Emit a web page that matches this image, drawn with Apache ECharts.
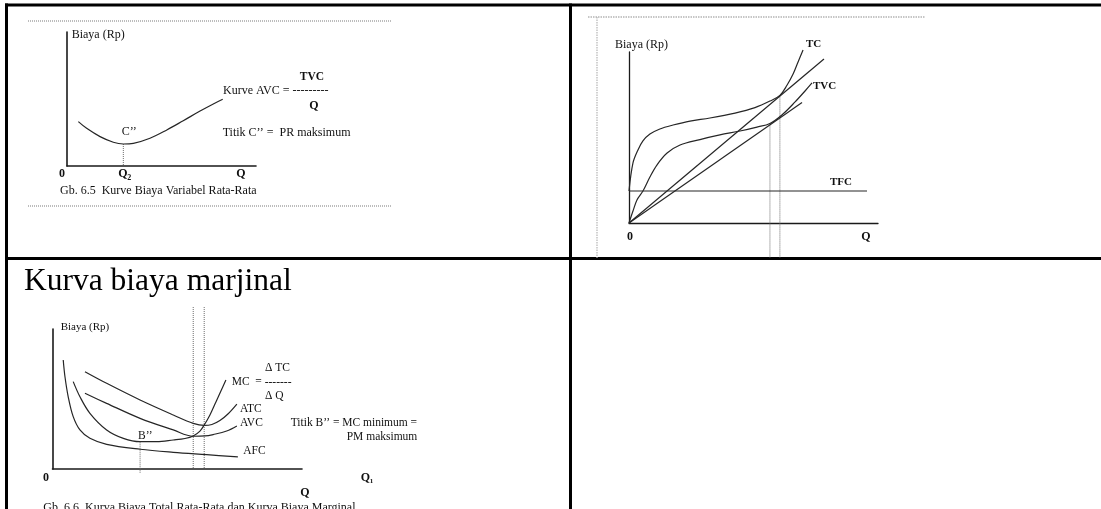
<!DOCTYPE html>
<html>
<head>
<meta charset="utf-8">
<script src="https://cdn.jsdelivr.net/npm/echarts@6/dist/echarts.min.js"></script>
<style>
  html, body { margin: 0; padding: 0; background: #fff; }
  #c { width: 1101px; height: 509px; }
</style>
</head>
<body>
<div id="c"></div>
<script>
// All three diagrams use an abstract 0..100 scale for quantity (Q) and cost (Biaya).

// ---- Gb. 6.5: average variable cost ----
const avcCurve65 = [
  [6.0, 33.1], [10.4, 28.1], [17.5, 21.9], [24.5, 17.7], [29.8, 16.4], [35.1, 16.9],
  [43.9, 20.7], [52.8, 26.9], [61.5, 33.8], [70.4, 41.0], [77.4, 46.3], [82.4, 49.8]
];
const q2Drop = [[29.8, 16.4], [29.8, 0]];
const axisLabels65 = ['0', 'Q', '2', 'Q'];

// ---- total cost panel: TC, TVC, TFC and rays from the origin ----
const tcCurve = [
  [0, 18.7], [1.6, 35.1], [3.6, 42.7], [5.6, 48.0], [8.4, 52.0], [12.4, 55.0],
  [17.7, 57.3], [24.5, 59.6], [32.5, 61.4], [42.6, 64.3], [50.6, 67.5], [56.6, 71.3],
  [60.6, 74.6], [63.5, 80.7], [65.9, 87.1], [67.9, 94.2], [69.9, 101.2]
];
const tvcCurve = [
  [0, 0], [1.6, 7.0], [3.2, 13.5], [5.6, 18.7], [8.4, 26.9], [11.2, 33.9],
  [15.3, 40.9], [20.5, 45.6], [28.5, 48.8], [36.5, 51.5], [44.6, 53.8], [51.4, 56.1],
  [56.6, 58.2], [61.8, 63.7], [66.7, 70.8], [70.7, 77.2], [73.5, 81.9]
];
const tfcLine = [[0, 18.7], [95.6, 18.7]];
const rayToTC = [[0, 0], [78.3, 95.9]];
const rayToTVC = [[0, 0], [69.5, 70.5]];
const dropAtTC = [[60.6, 74.6], [60.6, -20.5]];
const dropAtTVC = [[56.6, 58.2], [56.6, -20.5]];

// ---- Gb. 6.6: AFC, AVC, ATC, MC ----
const afcCurve = [
  [4.3, 77.9], [5.0, 65.9], [6.3, 51.6], [8.3, 37.4], [11.0, 27.9], [15.0, 21.9],
  [21.7, 17.6], [35.1, 14.1], [48.4, 11.9], [61.8, 10.2], [74.3, 8.6]
];
const mcCurve = [
  [8.3, 62.4], [11.0, 51.6], [15.0, 39.8], [21.7, 27.9], [28.4, 21.9], [35.1, 19.5],
  [41.8, 19.5], [48.4, 20.7], [53.1, 21.8], [56.4, 23.6], [59.1, 27.1], [60.8, 31.4],
  [63.1, 38.6], [65.5, 47.9], [67.5, 55.7], [69.5, 63.6]
];
const atcCurve = [
  [13.0, 69.5], [21.7, 61.2], [35.1, 49.3], [48.4, 38.6], [56.4, 32.6], [60.8, 31.1],
  [63.9, 31.8], [67.1, 34.6], [70.3, 39.3], [73.9, 46.4]
];
const avcCurve66 = [
  [13.0, 54.1], [21.7, 46.9], [35.1, 36.2], [48.4, 27.9], [56.4, 23.4], [61.1, 23.6],
  [64.4, 24.6], [69.8, 27.1], [73.9, 30.7]
];
const dropAtB = [[35.1, 19.5], [35.1, -3]];
const dropAtAVCmin = [[56.4, 115.7], [56.4, 0]];
const dropAtATCmin = [[60.8, 115.7], [60.8, 0]];

const FONT = '"Liberation Serif", "Times New Roman", serif';
const INK = '#111';
const LINE = '#262626';

const chart = echarts.init(document.getElementById('c'), null, { renderer: 'canvas', width: 1101, height: 509 });

function axis(gridIndex, width) {
  return {
    type: 'value', gridIndex, min: 0, max: 100,
    axisLine: { show: true, onZero: false, lineStyle: { color: '#1a1a1a', width } },
    axisTick: { show: false }, axisLabel: { show: false }, splitLine: { show: false }
  };
}

function curve(data, g, opts = {}) {
  return {
    type: 'line', xAxisIndex: g, yAxisIndex: g, data,
    smooth: opts.smooth === undefined ? 0.35 : opts.smooth,
    symbol: 'none', showSymbol: false, clip: false, silent: true,
    lineStyle: { color: opts.color || LINE, width: opts.width || 1.2, type: opts.type || 'solid' },
    z: opts.z || 3
  };
}

function guide(data, g) {
  return curve(data, g, { smooth: false, color: '#6a6a6a', width: 1, type: [1, 1], z: 2 });
}

function label(text, x, y, o = {}) {
  return {
    type: 'text', x, y, silent: true, z: 10,
    style: {
      text, fill: o.color || INK,
      fontFamily: FONT, fontSize: o.size || 12, fontWeight: o.bold ? 'bold' : 'normal',
      align: o.align || 'left', verticalAlign: 'middle'
    }
  };
}

function rule(x1, y1, x2, y2, o = {}) {
  return {
    type: 'line', silent: true, z: 1,
    shape: { x1, y1, x2, y2 },
    style: { stroke: o.color || '#000', lineWidth: o.width || 3, lineDash: o.dash || null }
  };
}

const graphics = [
  // table frame
  rule(5, 5, 1101, 5),
  rule(6.5, 3.5, 6.5, 509),
  rule(570.5, 3.5, 570.5, 509),
  rule(5, 258.5, 1101, 258.5),

  // Gb. 6.5 page rules
  rule(28, 21, 392, 21, { color: '#7a7a7a', width: 1, dash: [1, 1] }),
  rule(28, 206, 392, 206, { color: '#7a7a7a', width: 1, dash: [1, 1] }),

  // total cost figure frame
  rule(588, 17, 925, 17, { color: '#b4b4b4', width: 1.5, dash: [1.5, 1] }),
  rule(597, 17, 597, 258, { color: '#b4b4b4', width: 1.2, dash: [1.5, 1] }),

  // Gb. 6.5 text
  label('Biaya (Rp)', 71.7, 35),
  label('TVC', 312, 77, { bold: true, align: 'center', size: 11.5 }),
  label('Kurve AVC = ---------', 223, 91),
  label('Q', 314, 106, { bold: true, align: 'center' }),
  label('C\u2019\u2019', 121.7, 132),
  label('Titik C\u2019\u2019 =  PR maksimum', 222.7, 132.7),
  label(axisLabels65[0], 62, 174.3, { bold: true, align: 'center' }),
  label(axisLabels65[1], 118.3, 174.3, { bold: true }),
  label(axisLabels65[2], 127.2, 177.5, { bold: true, size: 8 }),
  label(axisLabels65[3], 241, 174.3, { bold: true, align: 'center' }),
  label('Gb. 6.5  Kurve Biaya Variabel Rata-Rata', 60, 191),

  // total cost text
  label('Biaya (Rp)', 615, 45),
  label('TC', 806, 44, { bold: true, size: 11 }),
  label('TVC', 813, 86, { bold: true, size: 11 }),
  label('TFC', 830, 182, { bold: true, size: 11 }),
  label('0', 630, 237, { bold: true, align: 'center' }),
  label('Q', 866, 237, { bold: true, align: 'center' }),

  // marginal cost text
  label('Kurva biaya marjinal', 24, 282, { size: 31.5, color: '#000' }),
  label('Biaya (Rp)', 60.7, 327, { size: 11 }),
  label('\u0394 TC', 265, 367.7, { size: 11.5 }),
  label('MC  = -------', 231.7, 381.7, { size: 11.5 }),
  label('\u0394 Q', 265, 395.7, { size: 11.5 }),
  label('ATC', 240, 409, { size: 11.5 }),
  label('AVC', 240, 423.3, { size: 11.5 }),
  label('Titik B\u2019\u2019 = MC minimum =', 290.7, 423.3, { size: 11.5 }),
  label('PM maksimum', 346.7, 436.7, { size: 11.5 }),
  label('AFC', 243.3, 450.7, { size: 11.5 }),
  label('B\u2019\u2019', 138, 436, { size: 11.5 }),
  label('0', 46, 478, { bold: true, align: 'center' }),
  label('Q', 360.7, 478.3, { bold: true }),
  label('1', 369.8, 481, { bold: true, size: 7 }),
  label('Q', 305, 492.7, { bold: true, align: 'center' }),
  label('Gb. 6.6  Kurva Biaya Total Rata-Rata dan Kurva Biaya Marginal', 43.3, 508)
];

chart.setOption({
  animation: false,
  backgroundColor: '#fff',
  grid: [
    { left: 67, top: 32, width: 189, height: 134 },
    { left: 629, top: 52, width: 249, height: 171 },
    { left: 52.5, top: 329, width: 249.5, height: 140 }
  ],
  xAxis: [axis(0, 1.6), axis(1, 1.3), axis(2, 1.6)],
  yAxis: [axis(0, 1.6), axis(1, 1.3), axis(2, 1.6)],
  series: [
    curve(avcCurve65, 0),
    guide(q2Drop, 0),

    curve(tcCurve, 1),
    curve(tvcCurve, 1),
    curve(tfcLine, 1, { smooth: false }),
    curve(rayToTC, 1, { smooth: false }),
    curve(rayToTVC, 1, { smooth: false }),
    guide(dropAtTC, 1),
    guide(dropAtTVC, 1),

    curve(afcCurve, 2),
    curve(mcCurve, 2),
    curve(atcCurve, 2),
    curve(avcCurve66, 2),
    guide(dropAtB, 2),
    guide(dropAtAVCmin, 2),
    guide(dropAtATCmin, 2)
  ],
  graphic: graphics
});
</script>
</body>
</html>
